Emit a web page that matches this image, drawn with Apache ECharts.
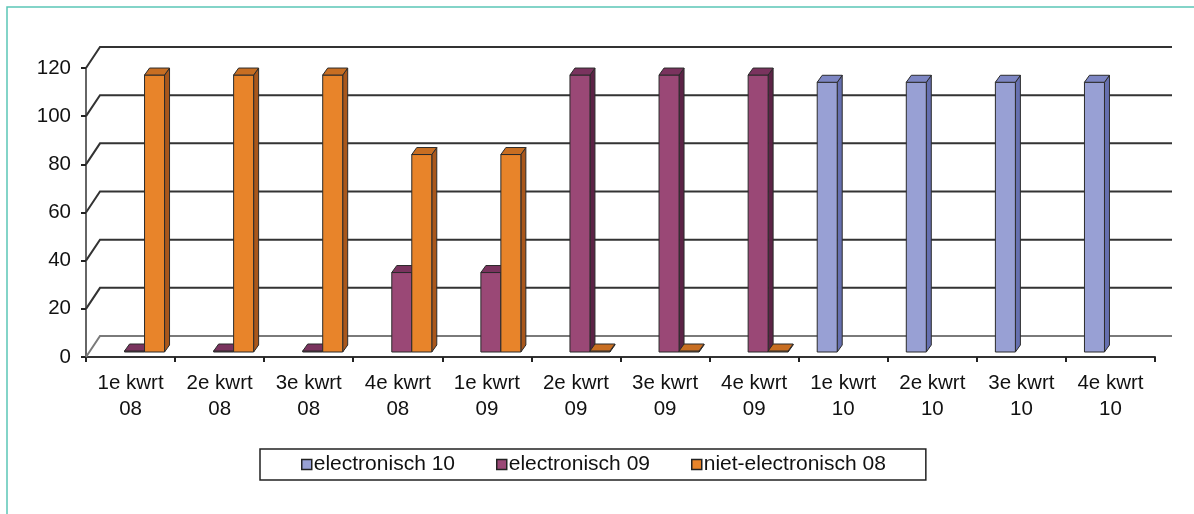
<!DOCTYPE html>
<html>
<head>
<meta charset="utf-8">
<script src="https://cdn.jsdelivr.net/npm/echarts@6/dist/echarts.min.js"></script>
<style>
html,body{margin:0;padding:0;background:#fff;}
#c{width:1194px;height:514px;}
</style>
</head>
<body>
<div id="c"></div>
<script>
const categories = ['1e kwrt\n08','2e kwrt\n08','3e kwrt\n08','4e kwrt\n08','1e kwrt\n09','2e kwrt\n09','3e kwrt\n09','4e kwrt\n09','1e kwrt\n10','2e kwrt\n10','3e kwrt\n10','4e kwrt\n10'];
const seriesNames = ['electronisch 10','electronisch 09','niet-electronisch 08'];
const elec10 = [null,null,null,null,null,null,null,null,112,112,112,112];
const elec09 = [0,0,0,33,33,115,115,115,null,null,null,null];
const niet08 = [115,115,115,82,82,0,0,0,null,null,null,null];
const yTicks = [0,20,40,60,80,100,120];

const palettes = [
  {front:'#98A0D4', side:'#6670B0', top:'#7D86C3'},
  {front:'#9A4876', side:'#5C2346', top:'#7A335E'},
  {front:'#E8842A', side:'#A9571B', top:'#C86E22'}
];
const DX = 14, DY = -21;      // wall depth
const BDX = 5, BDY = -7;      // bar depth
const SHIFT_Y = -5;           // bar placement behind front plane

function toPairs(arr){ const out=[]; arr.forEach((v,i)=>{ if(v!==null) out.push([i,v]); }); return out; }

function barRender(k){
  return function(params, api){
    const idx = api.value(0), v = api.value(1);
    const base = api.coord([idx, 0]);
    const top = api.coord([idx, v]);
    const band = api.size([1,0])[0];
    const s = band/89.1;
    const bw = 20*s;
    const x = base[0] + (-26 + 20*k)*s;
    const yb = base[1] + SHIFT_Y;
    const yt = Math.min(top[1] + SHIFT_Y, yb - 1);
    const p = palettes[k];
    const stroke = {stroke:'#2b2b2b', lineWidth:1};
    return {type:'group', children:[
      {type:'polygon', shape:{points:[[x+bw,yt],[x+bw+BDX,yt+BDY],[x+bw+BDX,yb+BDY],[x+bw,yb]]}, style:Object.assign({fill:p.side},stroke)},
      {type:'rect', shape:{x:x, y:yt, width:bw, height:yb-yt}, style:Object.assign({fill:p.front},stroke)},
      {type:'polygon', shape:{points:[[x,yt],[x+BDX,yt+BDY],[x+bw+BDX,yt+BDY],[x+bw,yt]]}, style:Object.assign({fill:p.top},stroke)}
    ]};
  };
}

function wallRender(params, api){
  const v = api.value(0);
  const p = api.coord([0, v]);
  const band = api.size([1,0])[0];
  const x0 = p[0] - band/2;
  const xEnd = x0 + band*categories.length;
  return {type:'group', children:[
    {type:'polyline', shape:{points:[[x0,p[1]],[x0+DX,p[1]+DY],[xEnd+DX+3,p[1]+DY]]},
     style:{stroke: v===0 ? '#7a7a7a' : '#333333', lineWidth: 2, fill:null}}
  ]};
}

const chart = echarts.init(document.getElementById('c'), null, {renderer:'canvas'});
const seriesData = [elec10, elec09, niet08];
const FONT = 'Liberation Sans, Arial, sans-serif';
const option = {
  backgroundColor:'#ffffff',
  animation:false,
  graphic:[{type:'polyline', shape:{points:[[7,514],[7,7],[1194,7]]}, style:{stroke:'#5BC6B6', lineWidth:1.5, fill:null}, z:100}],
  legend:{
    data: seriesNames,
    left: 260, top: 449,
    padding:[5,40,5,41],
    itemGap: 41,
    itemWidth: 10, itemHeight: 10,
    icon:'rect',
    borderColor:'#222', borderWidth:1.5,
    itemStyle:{borderColor:'#222', borderWidth:1.5},
    textStyle:{fontFamily:FONT, fontSize:21, color:'#111', padding:[0,0,0,-3]}
  },
  grid:[{left:86, right:39, top:68, bottom:157}],
  xAxis:[{type:'category', data:categories, boundaryGap:true,
    axisLine:{lineStyle:{color:'#333', width:2}},
    axisTick:{show:true, length:5, lineStyle:{color:'#222', width:2}, alignWithLabel:false},
    axisLabel:{fontFamily:FONT, fontSize:20.5, color:'#111', margin:13, lineHeight:26, interval:0},
    splitLine:{show:false}
  }],
  yAxis:[{type:'value', min:0, max:120, interval:20,
    axisLine:{show:true, lineStyle:{color:'#666', width:2}},
    axisTick:{show:true, length:5, lineStyle:{color:'#222', width:2}},
    axisLabel:{fontFamily:FONT, fontSize:20.5, color:'#111', margin:15},
    splitLine:{show:false}
  }],
  series:[
    {type:'custom', name:'_wall', silent:true, z:1, renderItem:wallRender, data:yTicks.map(v=>[v]), encode:{y:0}, tooltip:{show:false}},
  ].concat(seriesNames.map((n,k)=>({
    type:'custom', name:n, z:3+k, renderItem:barRender(k),
    itemStyle:{color:palettes[k].front},
    data: toPairs(seriesData[k]), encode:{x:0, y:1}
  })))
};
chart.setOption(option);
</script>
</body>
</html>
